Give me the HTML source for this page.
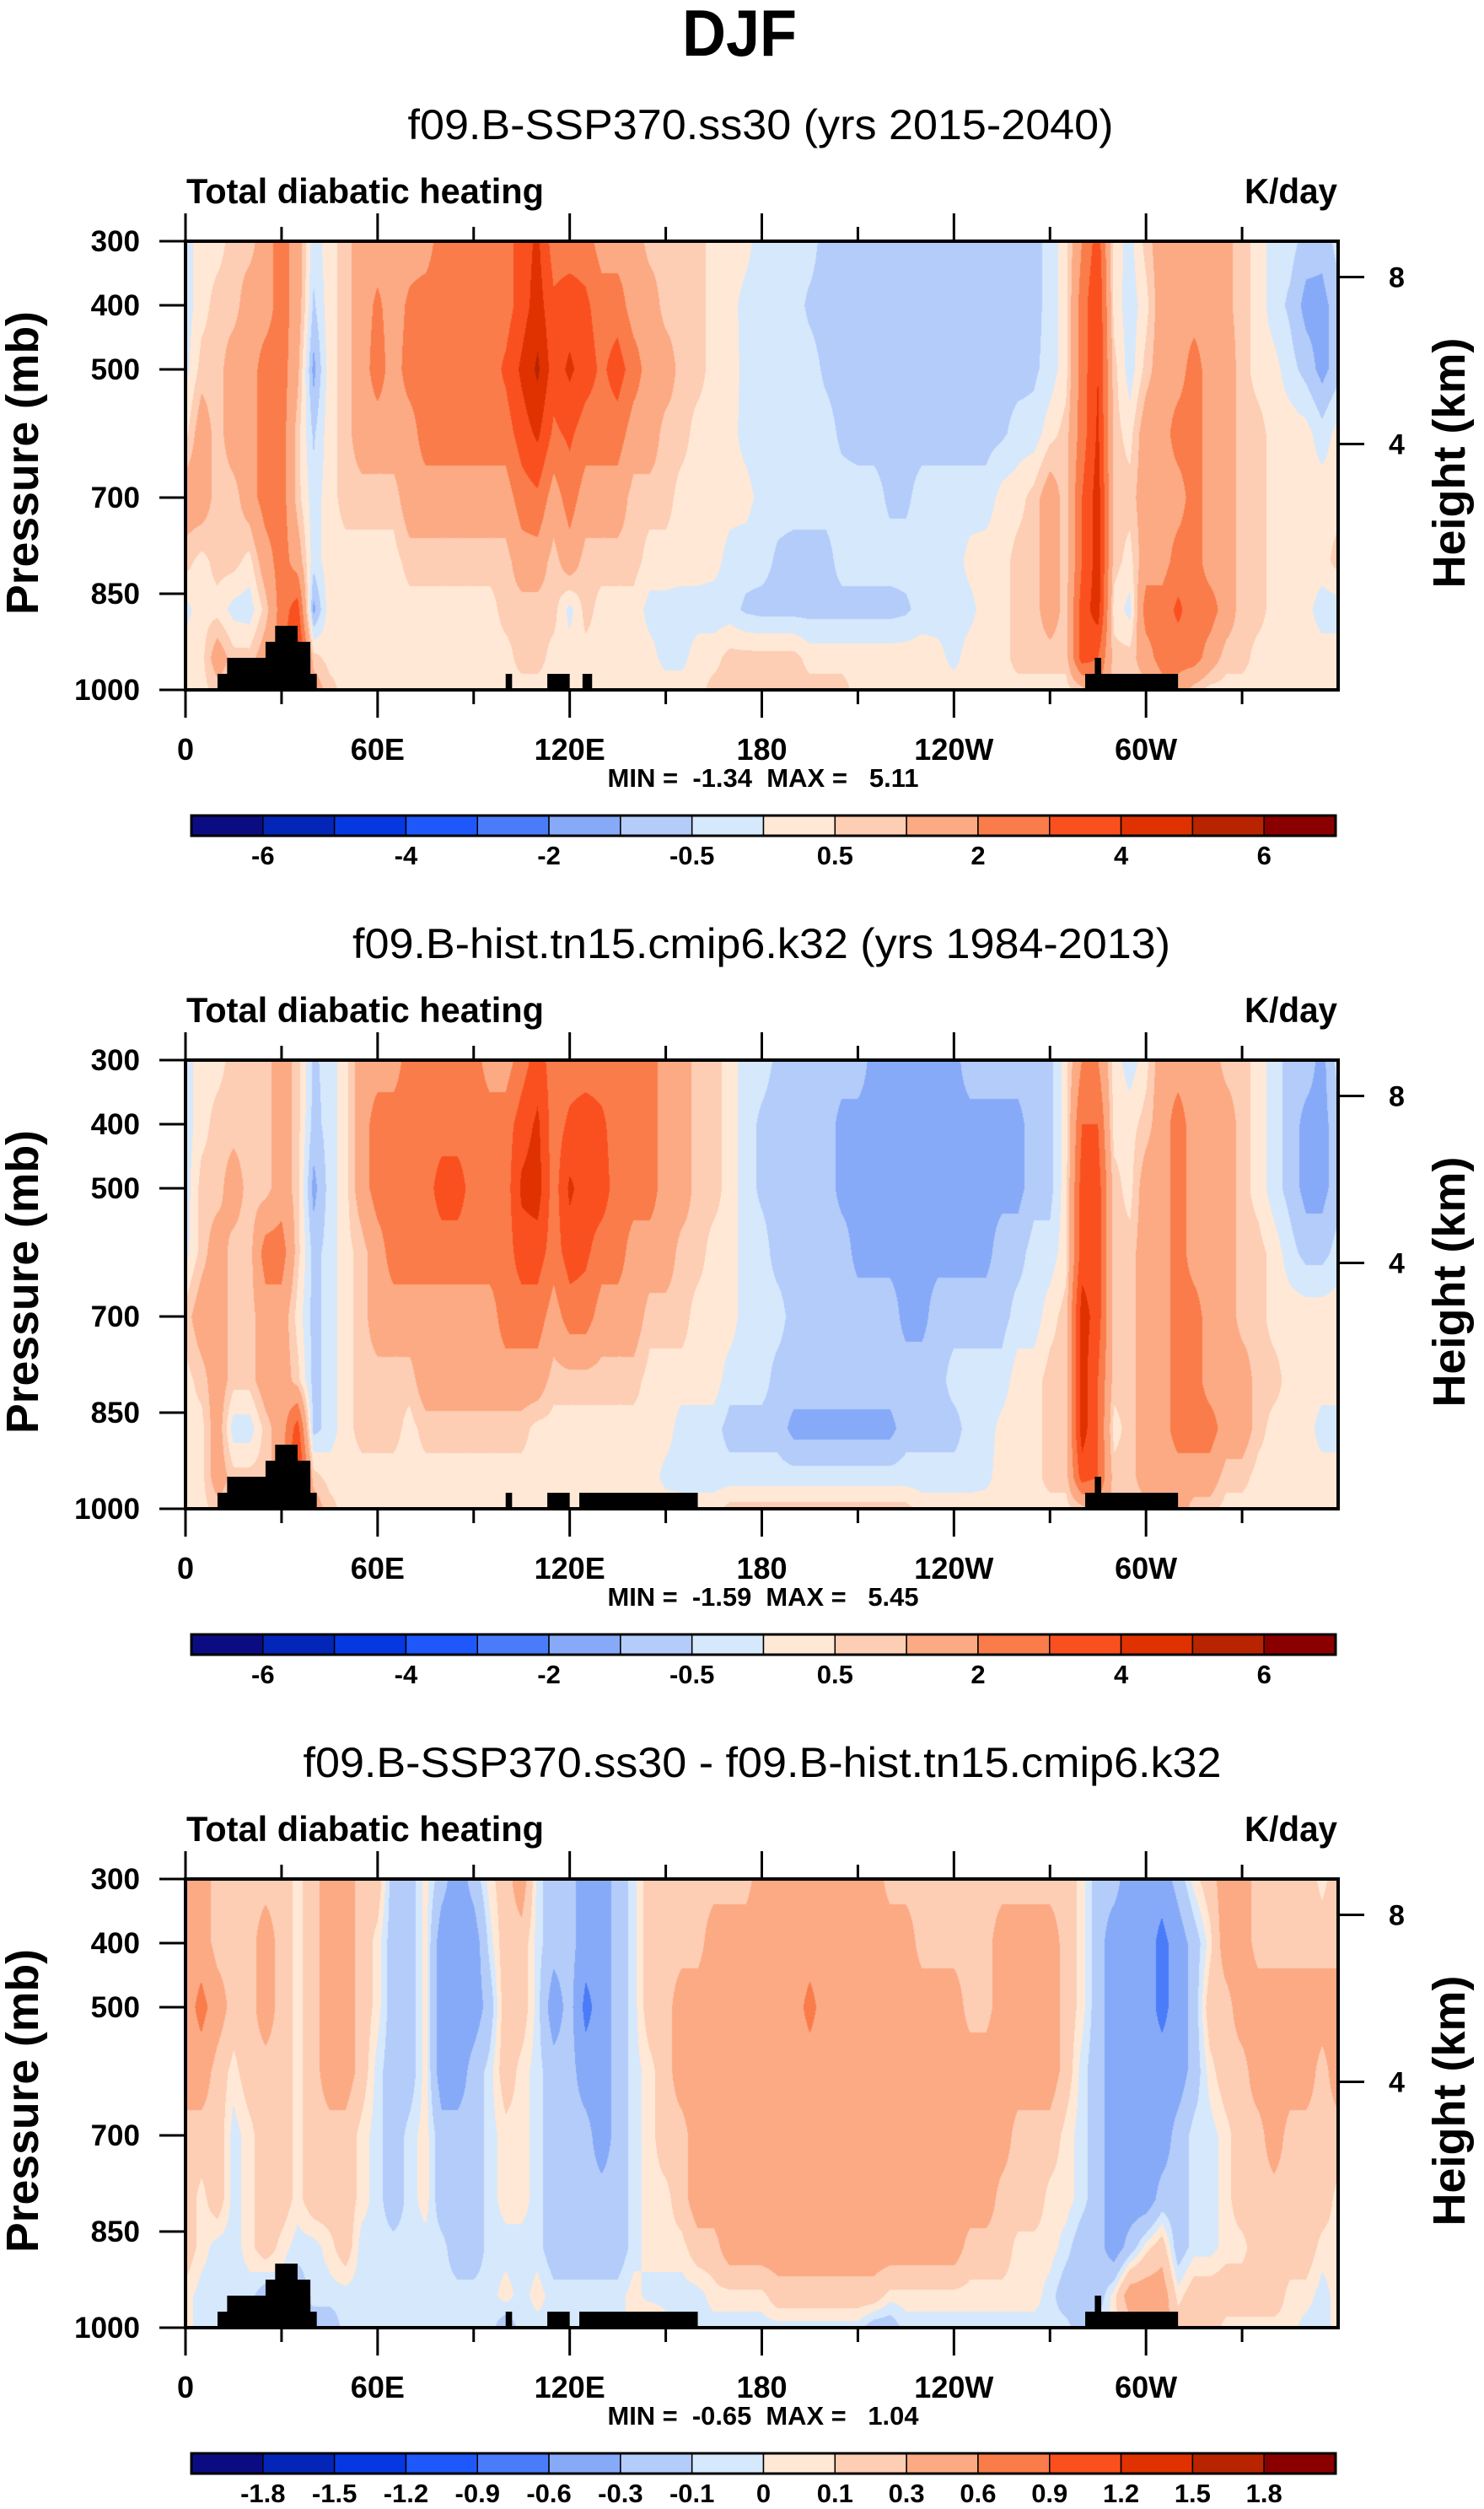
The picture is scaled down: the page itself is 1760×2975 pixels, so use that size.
<!DOCTYPE html>
<html><head><meta charset="utf-8"><title>DJF Total diabatic heating</title>
<style>
body{margin:0;background:#fff}
#root{position:relative;width:1760px;height:2975px;overflow:hidden;font-family:"Liberation Sans",sans-serif;background:#fff}
canvas{position:absolute}
svg{position:absolute;left:0;top:0}
text{font-family:"Liberation Sans",sans-serif;white-space:pre}
</style></head>
<body>
<div id="root">
<canvas id="c0" width="1367" height="532" style="left:220px;top:286px"></canvas>
<canvas id="c1" width="1367" height="532" style="left:220px;top:1257px"></canvas>
<canvas id="c2" width="1367" height="532" style="left:220px;top:2228px"></canvas>
<svg id="s" width="1760" height="2975">
<text x="877" y="66" text-anchor="middle" font-size="78" font-weight="bold" textLength="136" lengthAdjust="spacingAndGlyphs">DJF</text>
<text x="902" y="165" text-anchor="middle" font-size="50" textLength="837" lengthAdjust="spacingAndGlyphs">f09.B-SSP370.ss30 (yrs 2015-2040)</text>
<text x="903" y="1136" text-anchor="middle" font-size="50" textLength="970" lengthAdjust="spacingAndGlyphs">f09.B-hist.tn15.cmip6.k32 (yrs 1984-2013)</text>
<text x="904" y="2107" text-anchor="middle" font-size="50" textLength="1089" lengthAdjust="spacingAndGlyphs">f09.B-SSP370.ss30 - f09.B-hist.tn15.cmip6.k32</text>
<g id="g"></g>
</svg>
</div>
<script>
// ---- data ----
const lons = [];
for (let i = 0; i <= 72; i++) lons.push(i * 5);
const pLevels = [300,400,500,600,700,800,875,950,1000];
const levelsAbs = [-6,-5,-4,-3,-2,-1,-0.5,0,0.5,1,2,3,4,5,6];
const levelsDiff = [-1.8,-1.5,-1.2,-0.9,-0.6,-0.3,-0.1,0,0.1,0.3,0.6,0.9,1.2,1.5,1.8];
const labelsAbs = ["-6","-4","-2","-0.5","0.5","2","4","6"];
const labelsAbsIdx = [0,2,4,6,8,10,12,14];
const labelsDiff = ["-1.8","-1.5","-1.2","-0.9","-0.6","-0.3","-0.1","0","0.1","0.3","0.6","0.9","1.2","1.5","1.8"];
const colors = ["#0c0c82","#0426b8","#0638e2","#1e58fa","#4a7cfa","#86aaf8","#b4ccfa","#d6e8fc","#ffe9d6","#fdcdb4","#fbaa84","#fa7c4a","#fa5020","#e03200","#b82400","#8a0000"];
const xTickLabels = ["0","60E","120E","180","120W","60W"];
const xTickLons = [0,60,120,180,240,300];
const pTicks = [300,400,500,700,850,1000];
const kmTicks = [8,4];
const minMax = ["MIN =  -1.34  MAX =   5.11","MIN =  -1.59  MAX =   5.45","MIN =  -0.65  MAX =   1.04"];

const p1 = [
[-0.3,0.3,0.3,0.7,0.7,1.5,2.5,1.5,-0.3,0.3, 0.7,1.5,1.5,1.5,1.5,1.5,2.5,2.5,2.5,2.2, 2.5,3.5,4.2,2.5,2.5,2.5,1.5,1.5,1.5,0.7, 0.7,0.7,0.7,0.3,0.3,0.2,-0.3,-0.3,-0.3,-0.3, -0.7,-0.7,-0.7,-0.7,-0.7,-0.7,-0.7,-0.7,-0.7,-0.7, -0.7,-0.7,-0.7,-0.7,-0.3,0.3,2.0,3.5,0.3,-0.2, 0.7,1.5,1.5,1.5,1.5,1.2,0.7,0.3,-0.3,-0.3, -0.7,-0.8,-0.3],
[-0.3,0.3,0.7,0.7,1.5,1.5,2.5,1.5,-0.6,0.3, 0.7,1.5,2.2,1.5,2.2,2.5,2.5,2.5,2.5,2.5, 2.5,3.5,4.5,3.2,3.5,3.2,2.5,2.5,1.5,1.5, 0.7,0.7,0.7,0.3,0.2,-0.2,-0.3,-0.3,-0.3,-0.6, -0.7,-0.7,-0.7,-0.7,-0.7,-0.7,-0.7,-0.7,-0.7,-0.7, -0.7,-0.7,-0.7,-0.7,-0.3,0.3,2.5,4.0,0.3,-0.3, 0.3,1.5,1.5,1.5,1.5,1.2,0.7,0.3,-0.3,-0.6, -1.2,-1.2,-0.7],
[-0.2,0.7,0.7,1.5,1.5,2.5,2.5,1.2,-1.2,0.3, 0.7,1.5,2.5,1.5,2.5,2.5,2.8,2.8,2.8,2.5, 3.2,4.2,5.2,3.5,4.2,3.5,2.8,3.5,2.5,1.5, 1.5,0.7,0.7,0.3,0.3,-0.2,-0.3,-0.3,-0.3,-0.3, -0.6,-0.7,-0.7,-0.7,-0.7,-0.7,-0.7,-0.7,-0.7,-0.7, -0.7,-0.7,-0.7,-0.6,-0.3,0.3,2.5,4.0,0.7,-0.3, 0.7,1.5,1.5,2.5,1.5,1.5,0.7,0.3,0.2,-0.3, -0.7,-1.2,-0.7],
[0.3,1.5,0.7,1.5,1.5,2.5,2.5,0.7,-0.6,0.3, 0.7,1.5,1.5,1.5,1.5,2.5,2.5,2.5,2.5,2.5, 2.5,3.5,4.2,2.8,3.2,2.5,2.5,2.5,1.5,1.5, 0.7,0.7,0.3,0.3,0.2,-0.2,-0.3,-0.3,-0.3,-0.3, -0.3,-0.6,-0.7,-0.7,-0.7,-0.7,-0.7,-0.7,-0.7,-0.7, -0.7,-0.6,-0.3,-0.3,0.3,0.7,2.5,4.2,0.7,0.3, 1.5,1.5,2.5,2.5,1.5,1.5,0.7,0.7,0.3,0.3, 0.2,-0.3,0.2],
[1.5,1.5,0.7,0.7,1.5,2.5,2.5,0.7,-0.3,0.3, 0.7,0.7,0.7,0.7,1.5,1.5,1.5,1.5,1.5,1.5, 1.5,2.5,2.8,1.5,2.5,1.5,1.5,1.5,0.7,0.7, 0.7,0.3,0.3,0.3,0.2,0.2,-0.2,-0.3,-0.3,-0.3, -0.3,-0.3,-0.3,-0.3,-0.6,-0.6,-0.3,-0.3,-0.3,-0.3, -0.3,0.2,0.3,0.7,1.5,0.7,3.0,4.5,0.7,0.7, 1.5,1.5,1.5,2.5,1.5,1.5,0.7,0.7,0.3,0.3, 0.3,0.3,0.3],
[0.7,0.3,0.7,0.7,0.3,1.5,2.5,1.5,-0.3,0.3, 0.3,0.3,0.3,0.3,0.7,0.7,0.7,0.7,0.7,0.7, 0.7,1.5,1.5,0.7,1.5,0.7,0.7,0.7,0.7,0.3, 0.3,0.3,0.3,0.2,-0.2,-0.3,-0.3,-0.6,-0.7,-0.7, -0.7,-0.3,-0.3,-0.3,-0.3,-0.3,-0.3,-0.3,-0.3,0.2, 0.3,0.3,0.7,0.7,1.5,0.7,3.0,4.5,0.7,0.3, 1.5,1.5,2.5,2.5,1.5,1.5,0.7,0.7,0.3,0.3, 0.3,0.3,0.7],
[-0.2,0.3,0.3,-0.2,-0.3,0.7,2.5,3.5,-1.2,0.3, 0.3,0.2,0.2,0.2,0.3,0.3,0.3,0.3,0.3,0.3, 0.7,0.7,0.7,0.7,-0.2,0.7,0.3,0.3,0.3,-0.2, -0.2,-0.3,-0.3,-0.3,-0.3,-0.6,-0.7,-0.7,-0.7,-0.7, -0.7,-0.7,-0.7,-0.7,-0.7,-0.6,-0.3,-0.3,-0.3,-0.2, 0.3,0.3,0.7,0.7,1.5,0.7,3.5,4.5,0.3,-0.2, 2.5,2.5,3.2,2.5,2.5,1.5,0.7,0.7,0.3,0.3, 0.2,-0.3,-0.3],
[0.3,0.3,1.5,0.7,0.7,1.5,2.5,4.5,0.7,0.3, 0.3,0.3,0.3,0.3,0.3,0.3,0.3,0.3,0.3,0.3, 0.3,0.7,0.7,0.3,0.3,0.3,0.3,0.3,0.3,0.2, -0.2,-0.2,0.3,0.3,0.7,0.7,0.7,0.7,0.7,0.3, 0.3,0.3,0.3,0.3,0.3,0.3,0.3,0.2,-0.2,0.3, 0.3,0.3,0.7,0.7,0.7,0.7,3.5,3.0,0.7,0.7, 1.5,2.5,2.5,2.5,1.5,0.7,0.7,0.3,0.3,0.3, 0.3,0.3,0.3],
[0.3,0.3,0.7,0.7,0.7,0.7,0.7,0.7,1.5,0.7, 0.3,0.3,0.3,0.3,0.3,0.3,0.3,0.3,0.3,0.3, 0.3,0.3,0.3,0.3,0.3,0.3,0.3,0.3,0.3,0.3, 0.3,0.3,0.3,0.7,0.7,0.7,0.7,0.7,0.7,0.7, 0.7,0.7,0.3,0.3,0.3,0.3,0.3,0.3,0.3,0.3, 0.3,0.3,0.3,0.3,0.3,0.3,0.7,2.0,0.7,0.7, 0.7,1.5,1.5,0.7,0.3,0.3,0.3,0.3,0.3,0.3, 0.3,0.3,0.3]
];
const p2 = [
[-0.3,0.3,0.3,0.7,0.7,0.7,1.5,0.7,-0.6,-0.3, 0.3,1.5,1.5,1.5,2.5,2.5,2.5,2.5,2.5,1.5, 1.5,2.5,3.5,2.5,2.5,2.5,2.5,2.5,2.5,2.5, 1.5,1.5,0.7,0.7,0.3,-0.3,-0.3,-0.6,-0.7,-0.7, -0.7,-0.7,-0.7,-1.2,-1.2,-1.2,-1.2,-1.2,-1.2,-0.7, -0.7,-0.7,-0.7,-0.7,-0.7,0.3,2.0,2.0,0.3,-0.3, 0.3,1.5,1.5,1.5,1.5,0.7,0.7,0.3,-0.3,-0.7, -0.7,-1.2,-0.3],
[-0.3,0.3,0.7,0.7,0.7,0.7,1.5,0.7,-0.7,-0.3, 0.3,1.5,2.5,2.5,2.5,2.5,2.5,2.5,2.5,2.5, 2.5,3.5,4.2,2.5,3.2,3.5,3.2,2.5,2.5,2.5, 1.5,1.5,0.7,0.7,0.3,-0.3,-0.6,-0.7,-0.7,-0.7, -0.7,-1.2,-1.2,-1.2,-1.2,-1.2,-1.2,-1.2,-1.2,-1.2, -1.2,-1.2,-1.2,-0.7,-0.7,0.3,3.0,3.0,0.3,0.3, 0.7,1.5,2.5,1.5,1.5,1.5,0.7,0.3,-0.3,-0.7, -1.2,-1.2,-0.7],
[-0.3,0.7,0.7,1.5,0.7,0.7,1.5,0.7,-1.2,-0.3, 0.3,1.5,2.5,2.5,2.5,2.5,3.5,3.5,2.5,2.5, 2.5,4.2,4.5,2.5,4.2,3.5,3.5,2.5,2.5,2.5, 1.5,1.5,0.7,0.7,0.3,-0.3,-0.6,-0.7,-0.7,-0.7, -0.7,-1.2,-1.2,-1.2,-1.2,-1.2,-1.2,-1.2,-1.2,-1.2, -1.2,-1.2,-1.2,-0.7,-0.7,0.3,3.5,3.5,0.7,0.3, 1.5,1.5,2.5,1.5,1.5,1.5,0.7,0.3,-0.3,-0.7, -1.2,-1.2,-0.7],
[-0.2,0.7,1.5,0.7,0.7,2.5,2.5,0.7,-0.7,-0.3, 0.3,0.7,1.5,2.5,2.5,2.5,2.5,2.5,2.5,2.5, 2.5,3.5,3.5,2.5,3.5,3.2,2.5,2.5,1.5,1.5, 1.5,0.7,0.7,0.3,0.3,-0.3,-0.3,-0.7,-0.7,-0.7, -0.7,-0.7,-1.2,-1.2,-1.2,-1.2,-1.2,-1.2,-1.2,-1.2, -1.2,-0.7,-0.7,-0.3,-0.3,0.3,3.5,3.5,0.7,0.7, 1.5,1.5,2.5,1.5,1.5,1.5,0.7,0.7,0.3,-0.3, -0.7,-0.7,-0.3],
[0.7,1.5,1.5,0.7,0.7,1.5,1.5,0.3,-0.7,-0.3, 0.3,0.7,1.5,1.5,1.5,1.5,1.5,1.5,1.5,1.5, 2.5,2.5,2.5,1.5,2.5,2.5,1.5,1.5,1.5,0.7, 0.7,0.7,0.3,0.3,0.3,-0.3,-0.3,-0.3,-0.7,-0.7, -0.7,-0.7,-0.7,-0.7,-0.7,-1.2,-1.2,-0.7,-0.7,-0.7, -0.7,-0.7,-0.3,-0.3,0.3,0.7,4.5,3.5,0.7,0.7, 1.5,1.5,2.5,2.5,1.5,1.5,0.7,0.7,0.3,0.3, 0.3,0.3,0.3],
[0.3,0.7,1.5,0.7,0.7,1.5,1.5,0.7,-0.7,-0.3, 0.3,0.7,0.7,0.7,0.7,1.5,1.5,1.5,1.5,1.5, 1.5,1.5,1.5,0.7,0.7,0.7,0.7,0.7,0.7,0.3, 0.3,0.3,0.3,0.3,-0.3,-0.3,-0.3,-0.7,-0.7,-0.7, -0.7,-0.7,-0.7,-0.7,-0.7,-0.7,-0.7,-0.7,-0.3,-0.3, -0.3,-0.3,0.3,0.3,0.7,0.7,4.5,3.0,0.7,0.7, 1.5,1.5,2.5,2.5,1.5,1.5,1.5,0.7,0.7,0.3, 0.3,0.3,0.3],
[0.3,0.3,1.5,-0.3,-0.3,0.7,1.5,3.5,-0.7,-0.3, 0.3,0.7,0.7,0.7,0.3,0.7,0.7,0.7,0.7,0.7, 0.7,0.7,0.3,0.3,0.3,0.3,0.3,0.3,0.3,0.3, 0.3,-0.3,-0.3,-0.3,-0.7,-0.7,-0.7,-0.7,-1.2,-1.2, -1.2,-1.2,-1.2,-1.2,-1.2,-0.7,-0.7,-0.7,-0.7,-0.3, -0.3,0.2,0.3,0.3,0.7,0.7,4.5,3.0,0.3,0.7, 1.5,1.5,2.5,2.5,2.5,1.5,1.5,0.7,0.3,0.3, 0.3,-0.3,-0.3],
[0.3,0.3,1.5,0.7,0.7,0.7,1.5,4.5,0.7,0.3, 0.3,0.3,0.3,0.3,0.3,0.3,0.3,0.3,0.3,0.3, 0.3,0.3,0.3,0.3,0.3,0.3,0.3,0.3,0.3,0.3, -0.2,-0.3,-0.3,-0.3,-0.3,-0.3,-0.3,-0.3,-0.3,-0.3, -0.3,-0.3,-0.3,-0.3,-0.3,-0.3,-0.3,-0.3,-0.3,-0.3, -0.2,0.3,0.3,0.3,0.7,0.7,3.5,3.0,0.7,0.7, 1.5,1.5,1.5,1.5,1.5,0.7,0.7,0.3,0.3,0.3, 0.3,0.3,0.3],
[0.3,0.3,0.7,0.7,0.7,0.7,0.7,0.7,1.5,0.7, 0.3,0.3,0.3,0.3,0.3,0.3,0.3,0.3,0.3,0.3, 0.3,0.3,0.3,0.3,0.3,0.3,0.3,0.3,0.3,0.3, 0.3,0.3,0.3,0.3,0.7,0.7,0.7,0.7,0.7,0.7, 0.7,0.7,0.7,0.7,0.7,0.7,0.3,0.3,0.3,0.3, 0.3,0.3,0.3,0.3,0.3,0.3,0.7,1.5,0.7,0.7, 0.7,1.5,1.5,0.7,0.7,0.3,0.3,0.3,0.3,0.3, 0.3,0.3,0.3]
];
const p3 = [
[0.45,0.45,0.2,0.2,0.2,0.2,0.2,0.05,0.2,0.45, 0.45,0.2,0.2,-0.2,-0.2,0.05,-0.2,-0.45,-0.2,0.05, 0.2,0.45,-0.05,-0.2,-0.2,-0.45,-0.45,-0.2,-0.05,0.2, 0.2,0.2,0.2,0.2,0.2,0.2,0.45,0.45,0.45,0.45, 0.45,0.45,0.45,0.45,0.2,0.2,0.2,0.2,0.2,0.2, 0.2,0.2,0.2,0.2,0.2,0.2,0.05,-0.2,-0.2,-0.45, -0.45,-0.45,-0.2,0.05,0.2,0.45,0.45,0.2,0.2,0.2, 0.2,0.05,0.2],
[0.45,0.45,0.2,0.2,0.2,0.45,0.2,0.05,0.2,0.45, 0.45,0.2,0.05,-0.2,-0.2,0.05,-0.45,-0.45,-0.45,-0.05, 0.2,0.2,-0.05,-0.2,-0.2,-0.45,-0.45,-0.2,-0.05,0.2, 0.2,0.2,0.2,0.45,0.45,0.45,0.45,0.45,0.45,0.45, 0.45,0.45,0.45,0.45,0.45,0.45,0.2,0.2,0.2,0.2, 0.2,0.45,0.45,0.45,0.45,0.2,0.05,-0.2,-0.45,-0.45, -0.45,-0.7,-0.45,-0.2,0.05,0.45,0.45,0.2,0.2,0.2, 0.2,0.2,0.2],
[0.45,0.7,0.45,0.2,0.2,0.45,0.2,0.05,0.2,0.45, 0.45,0.2,0.05,-0.2,-0.2,0.05,-0.45,-0.45,-0.45,-0.2, 0.2,0.2,-0.05,-0.45,-0.2,-0.7,-0.45,-0.2,-0.05,0.2, 0.2,0.45,0.45,0.45,0.45,0.45,0.45,0.45,0.45,0.7, 0.45,0.45,0.45,0.45,0.45,0.45,0.45,0.45,0.45,0.2, 0.2,0.45,0.45,0.45,0.45,0.2,0.05,-0.2,-0.45,-0.45, -0.45,-0.7,-0.45,-0.2,0.2,0.2,0.45,0.45,0.45,0.45, 0.45,0.45,0.45],
[0.45,0.45,0.2,0.05,0.2,0.2,0.2,0.05,0.2,0.45, 0.45,0.2,-0.05,-0.2,-0.2,0.05,-0.45,-0.45,-0.2,-0.05, 0.2,0.05,-0.05,-0.2,-0.2,-0.45,-0.45,-0.2,-0.05,0.05, 0.2,0.45,0.45,0.45,0.45,0.45,0.45,0.45,0.45,0.45, 0.45,0.45,0.45,0.45,0.45,0.45,0.45,0.45,0.45,0.45, 0.45,0.45,0.45,0.45,0.45,0.2,-0.05,-0.2,-0.45,-0.45, -0.45,-0.45,-0.45,-0.2,0.05,0.2,0.2,0.45,0.45,0.45, 0.45,0.2,0.45],
[0.2,0.2,0.2,-0.05,0.05,0.2,0.2,0.05,0.2,0.2, 0.2,0.05,-0.05,-0.2,-0.05,0.05,-0.2,-0.2,-0.2,-0.05, 0.05,0.05,-0.05,-0.2,-0.2,-0.2,-0.45,-0.2,-0.05,0.05, 0.2,0.2,0.45,0.45,0.45,0.45,0.45,0.45,0.45,0.45, 0.45,0.45,0.45,0.45,0.45,0.45,0.45,0.45,0.45,0.45, 0.45,0.45,0.2,0.2,0.2,0.05,-0.05,-0.2,-0.45,-0.45, -0.45,-0.45,-0.2,-0.05,-0.05,0.05,0.2,0.2,0.45,0.2, 0.2,0.2,0.2],
[0.2,0.05,0.2,-0.05,0.05,0.2,0.2,0.05,0.2,0.2, 0.2,0.05,-0.05,-0.2,-0.05,0.05,-0.2,-0.2,-0.2,-0.05, 0.05,0.05,-0.05,-0.2,-0.2,-0.2,-0.2,-0.2,-0.05,0.05, 0.05,0.2,0.45,0.45,0.45,0.45,0.45,0.45,0.45,0.45, 0.45,0.45,0.45,0.45,0.45,0.45,0.45,0.45,0.45,0.45, 0.45,0.2,0.2,0.2,0.05,0.05,-0.05,-0.2,-0.45,-0.45, -0.45,-0.2,-0.2,-0.05,-0.05,0.05,0.2,0.2,0.2,0.2, 0.2,0.2,0.05],
[0.2,0.05,-0.05,-0.05,0.05,0.2,0.05,-0.05,-0.05,0.05, 0.2,-0.05,-0.05,-0.05,-0.05,-0.05,-0.05,-0.2,-0.2,-0.05, -0.05,-0.05,-0.05,-0.2,-0.2,-0.2,-0.2,-0.2,-0.05,0.05, 0.05,0.05,0.2,0.2,0.45,0.45,0.45,0.45,0.45,0.45, 0.45,0.45,0.45,0.45,0.45,0.45,0.45,0.45,0.45,0.2, 0.2,0.2,0.05,0.05,0.05,-0.05,-0.2,-0.2,-0.45,-0.2, 0.05,0.2,-0.2,-0.05,-0.05,0.05,0.05,0.2,0.2,0.2, 0.2,0.05,0.05],
[0.05,-0.05,-0.05,-0.05,-0.05,-0.2,-0.05,-0.2,-0.05,-0.05, -0.05,-0.05,-0.05,-0.05,-0.05,-0.05,-0.05,-0.05,-0.05,-0.05, 0.05,-0.05,0.05,-0.05,-0.05,-0.05,-0.05,-0.05,0.05,-0.05, -0.05,-0.05,-0.05,0.05,0.05,0.05,0.05,0.2,0.2,0.2, 0.2,0.2,0.2,0.2,0.05,0.05,0.05,0.05,0.05,0.05, 0.05,0.05,0.05,0.05,-0.05,-0.2,-0.2,-0.2,0.05,0.45, 0.45,0.45,0.05,0.2,0.2,0.2,0.2,0.2,0.2,0.05, 0.05,-0.05,0.05],
[0.05,-0.05,-0.05,-0.05,-0.05,-0.05,-0.05,-0.05,-0.2,-0.2, -0.05,-0.05,-0.05,-0.05,-0.05,-0.05,-0.05,-0.05,-0.05,-0.05, -0.2,-0.05,-0.05,-0.05,-0.05,-0.05,-0.05,-0.05,0.05,0.2, 0.05,-0.05,-0.05,-0.05,-0.05,-0.05,-0.05,-0.05,-0.05,-0.05, -0.05,-0.05,-0.05,-0.2,-0.2,-0.05,-0.05,-0.05,-0.05,-0.05, -0.05,-0.05,-0.05,-0.05,-0.05,-0.05,-0.2,-0.05,0.05,0.2, 0.45,0.45,0.2,0.2,0.2,0.05,0.05,0.05,0.05,0.05, -0.05,-0.05,0.05]
];
// topography blocks: [lonStart, lonEnd, topPressure]
const topo1 = [[10,41,975],[13,39,950],[25,39,925],[28,35,900],[100,102,975],[113,120,975],[124,127,975],[281,310,975],[284,286,950]];
const topo2 = [[10,41,975],[13,39,950],[25,39,925],[28,35,900],[100,102,975],[113,120,975],[123,160,975],[281,310,975],[284,286,950]];

// ---- axes ----
const PL = 220, PW = 1367, PH = 532;
const TOPS = [286, 1257, 2228];
function xOf(lon){ return PL + lon / 360 * PW; }
function yOf(p, top){ return top + (p - 300) / 700 * PH; }
function pOfKm(z){ return 1013.25 * Math.pow(1 - 2.25577e-5 * z * 1000, 5.25588); }

const NS = "http://www.w3.org/2000/svg";
const g = document.getElementById("g");
function mk(tag, attrs, parent){
  const e = document.createElementNS(NS, tag);
  for (const k in attrs) e.setAttribute(k, attrs[k]);
  (parent || g).appendChild(e);
  return e;
}

function cls(v, lev){ let i = 0; while (i < lev.length && v >= lev[i]) i++; return i; }
function hex(c){ return [parseInt(c.slice(1,3),16), parseInt(c.slice(3,5),16), parseInt(c.slice(5,7),16)]; }
const rgb = colors.map(hex);

function drawField(canvasId, data, lev){
  const cv = document.getElementById(canvasId);
  const ctx = cv.getContext("2d");
  const img = ctx.createImageData(PW, PH);
  for (let py = 0; py < PH; py++){
    const p = 300 + (py + 0.5) / PH * 700;
    let r = 0; while (r < pLevels.length - 2 && p > pLevels[r+1]) r++;
    const fy = Math.min(1, Math.max(0, (p - pLevels[r]) / (pLevels[r+1] - pLevels[r])));
    const a = data[r], b = data[r+1];
    for (let px = 0; px < PW; px++){
      const lon = (px + 0.5) / PW * 360;
      let c = Math.min(71, Math.floor(lon / 5));
      const fx = (lon - lons[c]) / 5;
      const v = (a[c]*(1-fx) + a[c+1]*fx) * (1-fy) + (b[c]*(1-fx) + b[c+1]*fx) * fy;
      const col = rgb[cls(v, lev)];
      const o = (py * PW + px) * 4;
      img.data[o] = col[0]; img.data[o+1] = col[1]; img.data[o+2] = col[2]; img.data[o+3] = 255;
    }
  }
  ctx.putImageData(img, 0, 0);
}
drawField("c0", p1, levelsAbs);
drawField("c1", p2, levelsAbs);
drawField("c2", p3, levelsDiff);

const panels = [
  {top: TOPS[0], topo: topo1, lev: levelsAbs, labels: labelsAbs, labIdx: labelsAbsIdx, mm: minMax[0]},
  {top: TOPS[1], topo: topo2, lev: levelsAbs, labels: labelsAbs, labIdx: labelsAbsIdx, mm: minMax[1]},
  {top: TOPS[2], topo: topo2, lev: levelsDiff, labels: labelsDiff, labIdx: [0,1,2,3,4,5,6,7,8,9,10,11,12,13,14], mm: minMax[2]}
];

panels.forEach((P, k) => {
  const T = P.top;
  const off = T - TOPS[0];
  P.topo.forEach(b => {
    const r = mk("rect", {x: xOf(b[0]), y: yOf(b[2], T), width: xOf(b[1]) - xOf(b[0]), height: yOf(1000, T) - yOf(b[2], T), fill: "#000"});
    
    
  });
  const fr = mk("rect", {x: PL, y: T, width: PW, height: PH, fill: "none", stroke: "#000", "stroke-width": 4});
  
  
  for (let lon = 0; lon <= 330; lon += 30){
    const major = lon % 60 === 0;
    const len = major ? 33 : 17;
    const x = xOf(lon);
    const t1 = mk("line", {x1: x, x2: x, y1: T, y2: T - len, stroke: "#000", "stroke-width": 3});
    
    
    const t2 = mk("line", {x1: x, x2: x, y1: T + PH, y2: T + PH + len, stroke: "#000", "stroke-width": 3});
    
    
  }
  xTickLabels.forEach((lab, i) => {
    const t = mk("text", {x: xOf(xTickLons[i]), y: T + 615, "text-anchor": "middle", "font-size": 36, "font-weight": "bold"});
    t.textContent = lab;
    
    
  });
  pTicks.forEach(p => {
    const y = yOf(p, T);
    const l = mk("line", {x1: PL, x2: PL - 31, y1: y, y2: y, stroke: "#000", "stroke-width": 3});
    
    
    const t = mk("text", {x: 166, y: y + 12, "text-anchor": "end", "font-size": 35, "font-weight": "bold"});
    t.textContent = String(p);
    
    
  });
  kmTicks.forEach(z => {
    const y = yOf(pOfKm(z), T);
    const l = mk("line", {x1: PL + PW, x2: PL + PW + 31, y1: y, y2: y, stroke: "#000", "stroke-width": 3});
    
    
    const t = mk("text", {x: 1647, y: y + 12, "font-size": 34, "font-weight": "bold"});
    t.textContent = String(z);
    
    
  });
  const lt = mk("text", {x: 221, y: T - 45, "font-size": 42, "font-weight": "bold", textLength: 424, lengthAdjust: "spacingAndGlyphs"});
  lt.textContent = "Total diabatic heating";
  
  
  const rt = mk("text", {x: 1476, y: T - 45, "font-size": 42, "font-weight": "bold", textLength: 110, lengthAdjust: "spacingAndGlyphs"});
  rt.textContent = "K/day";
  
  
  const yt = mk("text", {x: 0, y: 0, transform: "translate(45," + (T + PH/2 - 3) + ") rotate(-90)", "text-anchor": "middle", "font-size": 54, "font-weight": "bold", textLength: 360, lengthAdjust: "spacingAndGlyphs"});
  yt.textContent = "Pressure (mb)";
  
  
  const ht = mk("text", {x: 0, y: 0, transform: "translate(1737," + (T + PH/2 - 3) + ") rotate(-90)", "text-anchor": "middle", "font-size": 54, "font-weight": "bold", textLength: 297, lengthAdjust: "spacingAndGlyphs"});
  ht.textContent = "Height (km)";
  
  
  const mmT = mk("text", {x: 905, y: 933 + off, "text-anchor": "middle", "font-size": 31, "font-weight": "bold", textLength: 369, lengthAdjust: "spacingAndGlyphs"});
  mmT.textContent = P.mm;
  
  
  const cbX = 227, cbW = 1357, cbY = 967 + off, cbH = 24;
  const bw = cbW / colors.length;
  colors.forEach((c, i) => {
    const r = mk("rect", {x: cbX + i * bw, y: cbY, width: bw, height: cbH, fill: c, stroke: "#000", "stroke-width": 1.5});
    
    
  });
  const cbF = mk("rect", {x: cbX, y: cbY, width: cbW, height: cbH, fill: "none", stroke: "#000", "stroke-width": 3});
  
  
  P.labels.forEach((lab, i) => {
    const t = mk("text", {x: cbX + (P.labIdx[i] + 1) * bw, y: 1025 + off, "text-anchor": "middle", "font-size": 31, "font-weight": "bold"});
    t.textContent = lab;
    
    
  });
});
</script>
</body></html>
